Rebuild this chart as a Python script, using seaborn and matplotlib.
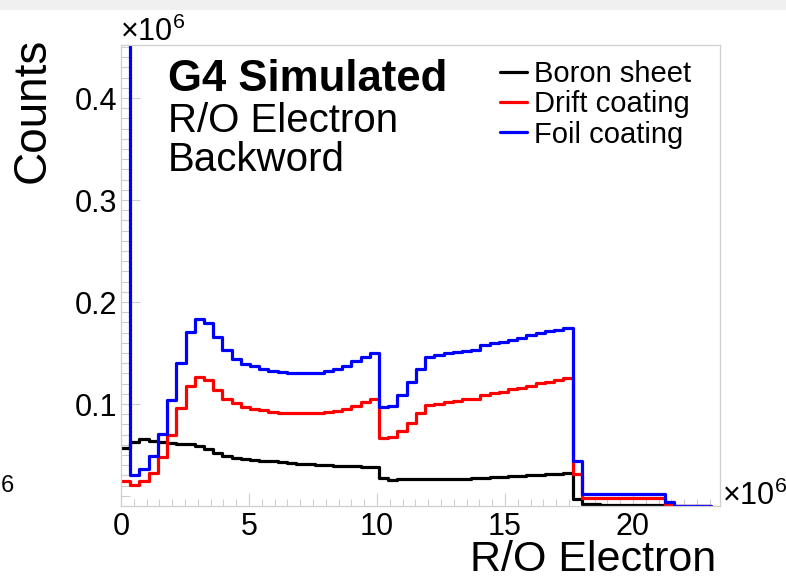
import numpy as np
import pandas as pd
import matplotlib
matplotlib.use("Agg")
import matplotlib.pyplot as plt
from matplotlib.lines import Line2D
from matplotlib.patches import Rectangle
from matplotlib.ticker import MultipleLocator, FuncFormatter
import seaborn as sns

sns.set_style("ticks")
plt.rcParams["font.family"] = ["Liberation Sans", "DejaVu Sans"]
plt.rcParams["mathtext.fontset"] = "custom"
plt.rcParams["mathtext.rm"] = "Liberation Sans"
plt.rcParams["mathtext.it"] = "Liberation Sans"
plt.rcParams["mathtext.bf"] = "Liberation Sans:bold"
plt.rcParams["text.color"] = "black"
plt.rcParams["xtick.labelcolor"] = "black"
plt.rcParams["ytick.labelcolor"] = "black"

# Histogram binning of the R/O electron count (64 bins of 0.36e6)
bin_width = 0.36e6
n_bins = 64
edges = [i * bin_width for i in range(n_bins + 1)]
centers = [e + bin_width / 2 for e in edges[:-1]]

# Bin contents, in thousands of counts
boron_sheet = [
    56.4, 62.3, 65.6, 64.0, 62.8, 61.8, 61.0, 60.3, 58.5, 55.5,
    52.0, 49.0, 47.0, 45.7, 45.0, 44.3, 43.7, 43.0, 42.2, 41.5,
    40.9, 40.3, 39.8, 39.4, 39.1, 38.8, 38.5, 38.3, 27.2, 25.9,
    26.2, 26.2, 26.3, 26.5, 26.6, 26.6, 26.7, 26.9, 27.0, 27.5,
    28.2, 28.5, 29.0, 29.8, 30.5, 30.8, 31.1, 31.8, 32.5, 7.2,
    1.5, 1.5, 1.4, 1.4, 1.4, 1.3, 1.3, 1.3, 1.2, 0.4,
    0.1, 0.1, 0.05, 0.0,
]
drift_coating = [
    25.0, 20.5, 24.6, 32.8, 48.3, 70.0, 96.3, 117.5, 126.4, 123.3,
    114.2, 104.8, 100.5, 97.5, 95.5, 94.0, 92.4, 91.2, 90.8, 90.8,
    90.8, 91.0, 92.0, 93.6, 95.5, 98.0, 101.8, 104.8, 66.4, 67.2,
    73.1, 81.6, 91.1, 98.6, 100.0, 101.8, 103.2, 104.5, 105.0, 108.8,
    110.4, 112.0, 114.4, 116.0, 118.0, 120.3, 122.0, 123.6, 125.3, 31.5,
    7.8, 7.8, 7.7, 7.7, 7.6, 7.6, 7.5, 7.5, 7.4, 1.5,
    0.2, 0.1, 0.1, 0.0,
]
foil_coating = [
    560.0, 30.5, 36.5, 49.0, 70.8, 104.0, 140.0, 170.2, 183.8, 179.0,
    165.3, 152.5, 144.6, 139.6, 137.0, 134.0, 132.7, 131.5, 130.5, 130.3,
    130.3, 130.5, 132.5, 134.8, 137.5, 141.8, 146.3, 150.0, 97.5, 98.2,
    108.8, 121.3, 134.4, 145.9, 148.2, 150.0, 151.1, 152.0, 153.0, 158.3,
    159.6, 160.6, 163.0, 165.0, 168.0, 170.0, 171.4, 173.0, 175.0, 44.2,
    11.6, 11.6, 11.5, 11.5, 11.5, 11.4, 11.4, 11.4, 11.3, 4.2,
    0.4, 0.3, 0.2, 0.1,
]

series = [
    ("Boron sheet", boron_sheet, "#000000"),
    ("Drift coating", drift_coating, "#ff0000"),
    ("Foil coating", foil_coating, "#0000ff"),
]

W, H = 786, 581
fig = plt.figure(figsize=(W / 100, H / 100), dpi=100)
fig.patches.append(Rectangle((0, 1 - 10 / H), 1, 10 / H, transform=fig.transFigure,
                             facecolor="#f0f0f0", edgecolor="none", zorder=0))

ax = fig.add_axes([121 / W, (H - 506) / H, (720 - 121) / W, (506 - 45) / H])

for label, counts, color in series:
    df = pd.DataFrame({"electrons": centers, "counts": np.asarray(counts) * 1e3})
    sns.histplot(data=df, x="electrons", weights="counts", bins=edges,
                 element="step", fill=False, color=color, linewidth=2.3,
                 ax=ax, label=label)

ax.set_xlim(0, 23.4e6)
ax.set_ylim(0, 0.452e6)

frame_grey = "#cfcfcf"
for sp in ax.spines.values():
    sp.set_color(frame_grey)
    sp.set_linewidth(0.9)

fmt = FuncFormatter(lambda v, _: f"{v / 1e6:g}")
ax.xaxis.set_major_locator(MultipleLocator(5e6))
ax.xaxis.set_minor_locator(MultipleLocator(0.5e6))
ax.yaxis.set_major_locator(MultipleLocator(0.1e6))
ax.yaxis.set_minor_locator(MultipleLocator(0.01e6))
ax.xaxis.set_major_formatter(fmt)
ax.yaxis.set_major_formatter(fmt)
ax.set_yticks([1e5, 2e5, 3e5, 4e5])

ax.tick_params(axis="both", which="both", direction="in", color=frame_grey,
               width=0.8, labelsize=22, labelcolor="black")
ax.tick_params(axis="y", which="major", length=13.5, pad=3)
ax.tick_params(axis="y", which="minor", length=6.5)
ax.tick_params(axis="x", which="major", length=9.5, pad=4)
ax.tick_params(axis="x", which="minor", length=4.8)

ax.set_xlabel("")
ax.set_ylabel("")
fig.text(716 / W, 1 - 571 / H, "R/O Electron", ha="right", va="baseline", fontsize=31)
fig.text(33 / W, 1 - 110 / H, "Counts", ha="center", va="center", rotation=90, fontsize=33)

# Axis multipliers
fig.text(120 / W, 1 - 41 / H, r"×10$^{6}$", ha="left", va="baseline", fontsize=22)
fig.text(722 / W, 1 - 505 / H, r"×10$^{6}$", ha="left", va="baseline", fontsize=22)
fig.text(1 / W, 1 - 492 / H, "6", ha="left", va="baseline", fontsize=17)

# Annotation block
fig.text(168 / W, 1 - 91 / H, "G4 Simulated", ha="left", va="baseline",
         fontsize=31.5, fontweight="bold")
fig.text(168 / W, 1 - 132 / H, "R/O Electron", ha="left", va="baseline", fontsize=29)
fig.text(168 / W, 1 - 171 / H, "Backword", ha="left", va="baseline", fontsize=29)

handles = [Line2D([], [], color=c, linewidth=2.3) for _, _, c in series]
labels = [lab for lab, _, _ in series]
ax.legend(handles, labels, loc="upper left", bbox_to_anchor=(500 / W, 1 - 60 / H),
          bbox_transform=fig.transFigure, frameon=False, fontsize=21,
          handlelength=0.93, handletextpad=0.25, labelspacing=0.08,
          borderpad=0, borderaxespad=0)

fig.savefig("out.png", dpi=100)
